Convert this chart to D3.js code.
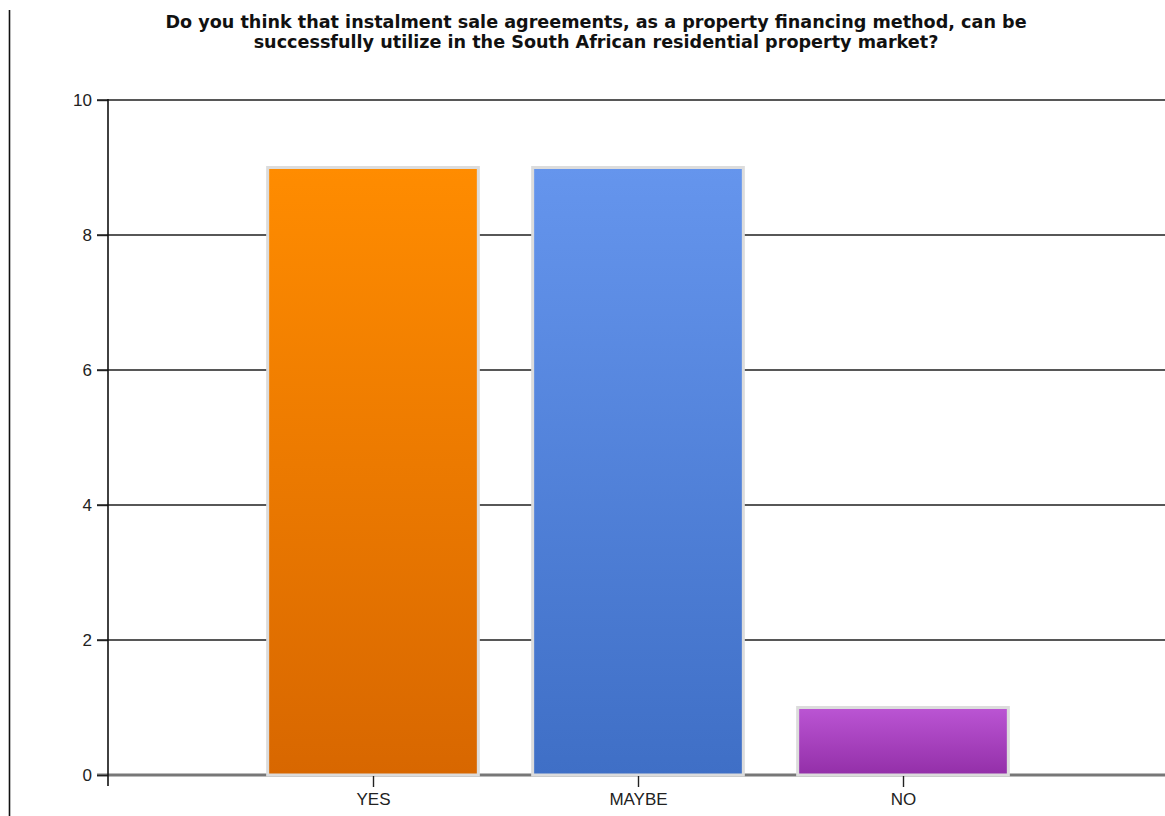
<!DOCTYPE html>
<html>
<head>
<meta charset="utf-8">
<script src="https://cdn.jsdelivr.net/npm/d3@7"></script>
<style>
  html, body { margin: 0; padding: 0; background: #fff; }
  svg { display: block; }
</style>
</head>
<body>
<svg id="chart" width="1165" height="816"></svg>
<script>
// Survey answers and their counts
const categories = ["YES", "MAYBE", "NO"];
const counts = [9, 9, 1];
const yTicks = [0, 2, 4, 6, 8, 10];
const titleLines = [
  "Do you think that instalment sale agreements, as a property financing method, can be",
  "successfully utilize in the South African residential property market?"
];
// top / bottom colours of each bar's vertical gradient
const barTop = ["#ff8c00", "#6595ed", "#bb55d4"];
const barBottom = ["#d86700", "#3f6fc6", "#932fa8"];

const svg = d3.select("#chart");
const W = 1165, H = 816;

const plot = { left: 108, right: 1168, top: 100, bottom: 775 };

const x = d3.scalePoint().domain(categories).range([plot.left, plot.right]).padding(1);
const y = d3.scaleLinear().domain([0, 10]).range([plot.bottom, plot.top]);
const barW = x.step() * 0.795;

// page edge rule on the left
svg.append("line")
  .attr("x1", 9.5).attr("x2", 9.5).attr("y1", 10).attr("y2", H)
  .attr("stroke", "#111").attr("stroke-width", 1.6);

// gradients
const defs = svg.append("defs");
categories.forEach((c, i) => {
  const g = defs.append("linearGradient")
    .attr("id", "grad" + i).attr("x1", 0).attr("x2", 0).attr("y1", 0).attr("y2", 1);
  g.append("stop").attr("offset", "0%").attr("stop-color", barTop[i]);
  g.append("stop").attr("offset", "100%").attr("stop-color", barBottom[i]);
});

// horizontal gridlines
svg.append("g").selectAll("line")
  .data(yTicks.filter(d => d > 0))
  .join("line")
  .attr("x1", 97).attr("x2", W)
  .attr("y1", d => y(d)).attr("y2", d => y(d))
  .attr("stroke", "#3a3a3a").attr("stroke-width", 2).attr("opacity", 0.85);

// baseline
svg.append("line")
  .attr("x1", 97).attr("x2", W)
  .attr("y1", y(0)).attr("y2", y(0))
  .attr("stroke", "#777").attr("stroke-width", 3);

// bars
svg.append("g").selectAll("rect")
  .data(categories)
  .join("rect")
  .attr("x", d => x(d) - barW / 2)
  .attr("width", barW)
  .attr("y", (d, i) => y(counts[i]))
  .attr("height", (d, i) => y(0) - y(counts[i]))
  .attr("fill", (d, i) => `url(#grad${i})`)
  .attr("stroke", "#dcdcdc").attr("stroke-width", 3);

// y axis
const yAxis = d3.axisLeft(y).tickValues(yTicks).tickSize(11).tickPadding(5).tickFormat(d3.format("d"));
const ya = svg.append("g").attr("transform", `translate(${plot.left},0)`).call(yAxis);
ya.select(".domain").remove();
ya.selectAll(".tick line").attr("stroke", "#222").attr("stroke-width", 1.4);
ya.selectAll(".tick text")
  .attr("font-family", "Liberation Sans, Arial, sans-serif")
  .attr("font-size", 17).attr("fill", "#222");
svg.append("line")
  .attr("x1", plot.left).attr("x2", plot.left)
  .attr("y1", y(10) - 1).attr("y2", y(0) + 11)
  .attr("stroke", "#111").attr("stroke-width", 1.6);

// x axis
const xAxis = d3.axisBottom(x).tickSize(11).tickPadding(6);
const xa = svg.append("g").attr("transform", `translate(0,${y(0) + 1})`).call(xAxis);
xa.select(".domain").remove();
xa.selectAll(".tick line").attr("stroke", "#222").attr("stroke-width", 1.4);
xa.selectAll(".tick text")
  .attr("font-family", "Liberation Sans, Arial, sans-serif")
  .attr("font-size", 17).attr("fill", "#222");

// title
const title = svg.append("text")
  .attr("text-anchor", "middle")
  .attr("font-family", "DejaVu Sans, Verdana, sans-serif")
  .attr("font-weight", "bold")
  .attr("font-size", 17.6)
  .attr("fill", "#111");
title.selectAll("tspan")
  .data(titleLines)
  .join("tspan")
  .attr("x", 596)
  .attr("y", (d, i) => 28 + i * 20)
  .text(d => d);
</script>
</body>
</html>
